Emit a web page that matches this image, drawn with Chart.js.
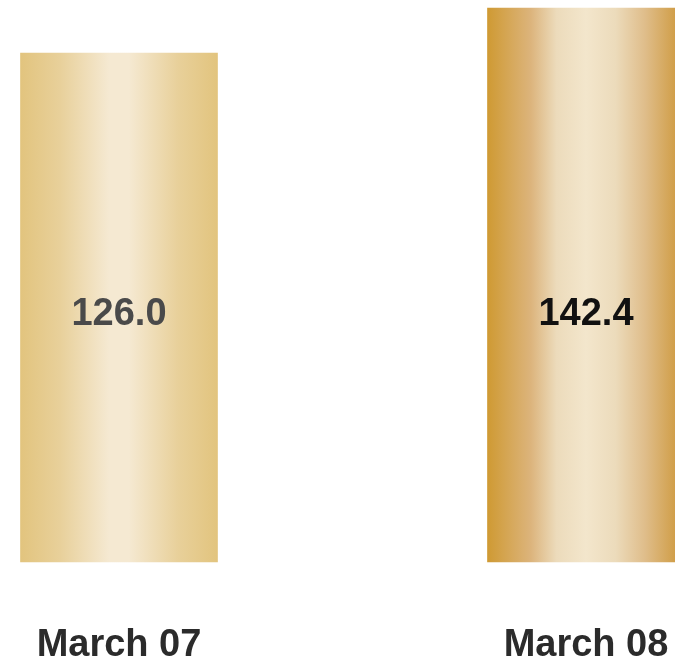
<!DOCTYPE html>
<html>
<head>
<meta charset="utf-8">
<script src="https://cdn.jsdelivr.net/npm/chart.js@4"></script>
<style>
html, body { margin: 0; padding: 0; background: #fff; overflow: hidden; }
#wrap { width: 675px; height: 662px; position: relative; }
</style>
</head>
<body>
<div id="wrap"><canvas id="chart"></canvas></div>
<script>
const categories = ["March 07", "March 08"]
const values = [126.0, 142.4]
const labelColors = ["#4a4a4a", "#111111"]

// gradient stops per bar (left -> right)
const gradients = [
    [[0, "#e2c47e"], [0.2, "#e8d09a"], [0.45, "#f5e9d2"], [0.55, "#f5e9d2"], [0.8, "#e8d09a"], [1, "#e2c47e"]],
    [[0, "#cf9a33"], [0.22, "#dcb47c"], [0.35, "#ecdbbb"], [0.5, "#f3e6cc"], [0.65, "#ecdbbb"], [0.8, "#dfbd8a"], [1, "#cc9535"]]
]

const barWidth = 197

function barFill(context) {
    const chart = context.chart
    const area = chart.chartArea
    if (!area) return "#e2c47e"
    const x = chart.scales.x.getPixelForValue(context.dataIndex)
    const g = chart.ctx.createLinearGradient(x - barWidth / 2, 0, x + barWidth / 2, 0)
    gradients[context.dataIndex].forEach(s => g.addColorStop(s[0], s[1]))
    return g
}

const valueLabels = {
    id: "valueLabels",
    afterDatasetsDraw(chart) {
        const ctx = chart.ctx
        const area = chart.chartArea
        const meta = chart.getDatasetMeta(0)
        ctx.save()
        ctx.font = "bold 38px 'Liberation Sans', Arial, sans-serif"
        ctx.textAlign = "center"
        ctx.textBaseline = "middle"
        meta.data.forEach((bar, i) => {
            ctx.fillStyle = labelColors[i]
            ctx.fillText(values[i].toFixed(1), bar.x, area.top + area.height * 0.56)
        })
        ctx.restore()
    }
}

new Chart(document.getElementById("chart"), {
    type: "bar",
    data: {
        labels: categories,
        datasets: [{
            data: values,
            backgroundColor: barFill,
            borderWidth: 0,
            barThickness: barWidth,
            base: -59.5,
            clip: false
        }]
    },
    options: {
        responsive: true,
        maintainAspectRatio: false,
        animation: false,
        layout: { padding: { left: 119, right: 89, top: 0, bottom: 0 } },
        plugins: { legend: { display: false }, tooltip: { enabled: false } },
        scales: {
            x: {
                offset: false,
                grid: { display: false, drawTicks: false },
                border: { display: false },
                ticks: {
                    color: "#2b2b2b",
                    padding: 61,
                    maxRotation: 0,
                    font: { family: "'Liberation Sans', Arial, sans-serif", size: 38, weight: "bold" }
                },
                afterFit(scale) {
                    scale.height = 100
                    scale.paddingLeft = 0
                    scale.paddingRight = 0
                }
            },
            y: {
                display: false,
                min: -59.5,
                max: 145.3
            }
        }
    },
    plugins: [valueLabels]
})
</script>
</body>
</html>
